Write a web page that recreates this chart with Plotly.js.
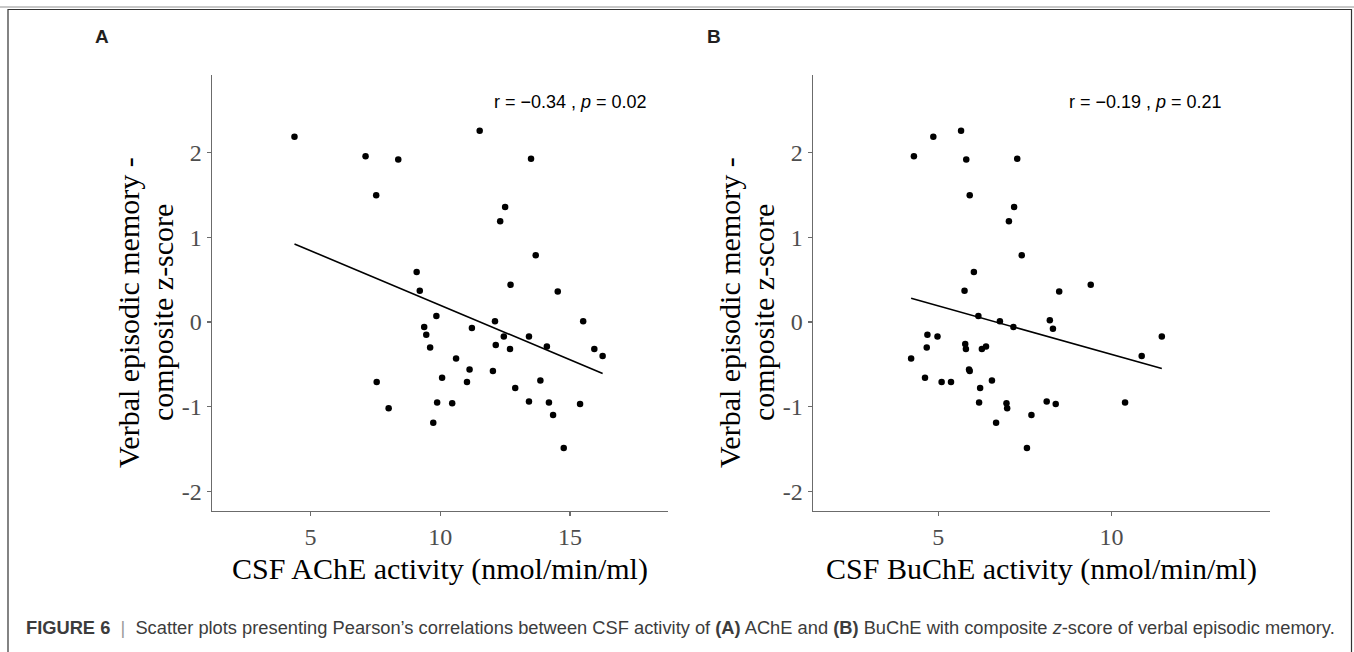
<!DOCTYPE html>
<html>
<head>
<meta charset="utf-8">
<script src="https://cdn.plot.ly/plotly-3.0.1.min.js"></script>
<style>html,body{margin:0;padding:0;background:#fff;}#chart{width:1354px;height:652px;}</style>
</head>
<body>
<div id="chart"></div>
<script>
// Panel A: CSF AChE activity vs composite z-score
const xA = [4.38, 11.52, 7.12, 8.38, 13.50, 7.53, 12.50, 12.31, 13.68, 9.09, 9.21, 12.71, 14.53, 9.85, 12.11, 15.51,
            9.38, 9.46, 9.61, 11.22, 12.45, 12.14, 12.69, 13.42, 14.11, 15.94, 16.26, 10.61, 11.13, 12.03, 10.07,
            11.03, 7.55, 12.89, 13.86, 9.88, 10.46, 13.42, 14.19, 15.39, 8.01, 14.35, 9.73, 14.76];
const yA = [2.19, 2.26, 1.96, 1.92, 1.93, 1.50, 1.36, 1.19, 0.79, 0.59, 0.37, 0.44, 0.36, 0.07, 0.01, 0.01,
            -0.06, -0.15, -0.30, -0.07, -0.17, -0.27, -0.32, -0.17, -0.29, -0.32, -0.40, -0.43, -0.56, -0.58, -0.66,
            -0.71, -0.71, -0.78, -0.69, -0.95, -0.96, -0.94, -0.95, -0.97, -1.02, -1.10, -1.19, -1.49];
// Panel B: CSF BuChE activity vs composite z-score
const xB = [4.30, 4.86, 5.66, 5.81, 7.28, 5.91, 7.19, 7.04, 7.41, 6.03, 5.76, 8.49, 9.40, 6.16, 6.78, 8.22,
            7.17, 8.31, 11.45, 4.69, 4.98, 4.67, 5.78, 5.80, 6.26, 6.38, 4.22, 10.87, 5.89, 5.91, 4.62,
            5.10, 5.37, 6.55, 6.21, 6.18, 6.97, 6.99, 8.13, 8.39, 10.39, 7.69, 6.67, 7.56];
const yB = [1.96, 2.19, 2.26, 1.92, 1.93, 1.50, 1.36, 1.19, 0.79, 0.59, 0.37, 0.36, 0.44, 0.07, 0.01, 0.02,
            -0.06, -0.08, -0.17, -0.15, -0.17, -0.30, -0.26, -0.32, -0.32, -0.29, -0.43, -0.40, -0.56, -0.58, -0.66,
            -0.71, -0.71, -0.69, -0.78, -0.95, -0.96, -1.02, -0.94, -0.97, -0.95, -1.10, -1.19, -1.49];

const yTickVals = [-2, -1, 0, 1, 2];
const yTickText = ['-2', '-1', '0', '1', '2'];
const xTickValsA = [5, 10, 15];
const xTickValsB = [5, 10];
const statA = 'r = \u22120.34 , <i>p</i> = 0.02';
const statB = 'r = \u22120.19 , <i>p</i> = 0.21';
const xTitleA = 'CSF AChE activity (nmol/min/ml)';
const xTitleB = 'CSF BuChE activity (nmol/min/ml)';
const yTitle1 = 'Verbal episodic memory -';
const yTitle2 = 'composite z-score';
const caption = '<b>FIGURE 6</b>\u00a0\u00a0<span style="color:#9a9a9a">|</span>\u00a0\u00a0Scatter plots presenting Pearson\u2019s correlations between CSF activity of <b>(A)</b> AChE and <b>(B)</b> BuChE with composite <i>z</i>-score of verbal episodic memory.';

function fit(x, y) {
  const n = x.length;
  const mx = x.reduce((a, b) => a + b, 0) / n;
  const my = y.reduce((a, b) => a + b, 0) / n;
  let sxy = 0, sxx = 0;
  for (let i = 0; i < n; i++) { sxy += (x[i] - mx) * (y[i] - my); sxx += (x[i] - mx) ** 2; }
  const b = sxy / sxx, a = my - b * mx;
  const x0 = Math.min(...x), x1 = Math.max(...x);
  return { x: [x0, x1], y: [a + b * x0, a + b * x1] };
}
const fA = fit(xA, yA), fB = fit(xB, yB);

const W = 1354, H = 652;
const px = v => v / W, py = v => (H - v) / H;

const serif = 'Liberation Serif, Times New Roman, serif';
const sans = 'Liberation Sans, Arial, sans-serif';
const axisCol = '#6b6b6b';

const traces = [
  { x: xA, y: yA, type: 'scatter', mode: 'markers', marker: { color: '#000', size: 6.5 }, xaxis: 'x', yaxis: 'y' },
  { x: fA.x, y: fA.y, type: 'scatter', mode: 'lines', line: { color: '#000', width: 1.6 }, xaxis: 'x', yaxis: 'y' },
  { x: xB, y: yB, type: 'scatter', mode: 'markers', marker: { color: '#000', size: 6.5 }, xaxis: 'x2', yaxis: 'y2' },
  { x: fB.x, y: fB.y, type: 'scatter', mode: 'lines', line: { color: '#000', width: 1.6 }, xaxis: 'x2', yaxis: 'y2' }
];

const yDom = [py(510.7), py(75)];
const commonX = {
  showline: true, linecolor: axisCol, linewidth: 1.5, ticks: 'outside', ticklen: 4, tickcolor: axisCol, tickwidth: 1.2,
  showgrid: false, zeroline: false, tickfont: { family: serif, size: 24, color: '#4d4d4d' }, tickmode: 'array'
};
const commonY = Object.assign({}, commonX, { range: [-2.23, 2.92], tickvals: yTickVals, ticktext: yTickText });

function ann(text, x, y, opts) {
  return Object.assign({ text: text, x: px(x), y: py(y), xref: 'paper', yref: 'paper', xanchor: 'center', yanchor: 'middle', showarrow: false }, opts);
}

const layout = {
  width: W, height: H, margin: { l: 0, r: 0, t: 0, b: 0 }, showlegend: false,
  paper_bgcolor: '#fff', plot_bgcolor: '#fff',
  xaxis: Object.assign({}, commonX, { domain: [px(212), px(668)], range: [1.2, 18.78], tickvals: xTickValsA, anchor: 'y',
    title: { text: xTitleA, font: { family: serif, size: 30, color: '#000' }, standoff: 9 } }),
  yaxis: Object.assign({}, commonY, { domain: yDom, anchor: 'x' }),
  xaxis2: Object.assign({}, commonX, { domain: [px(813), px(1270)], range: [1.39, 14.57], tickvals: xTickValsB, anchor: 'y2',
    title: { text: xTitleB, font: { family: serif, size: 30, color: '#000' }, standoff: 9 } }),
  yaxis2: Object.assign({}, commonY, { domain: yDom, anchor: 'x2' }),
  annotations: [
    ann('<b>A</b>', 102.5, 36, { font: { family: sans, size: 19, color: '#231f20' } }),
    ann('<b>B</b>', 714, 36, { font: { family: sans, size: 19, color: '#231f20' } }),
    ann(statA, 649, 102, { xanchor: 'right', font: { family: sans, size: 18, color: '#000' } }),
    ann(statB, 1224, 102, { xanchor: 'right', font: { family: sans, size: 18, color: '#000' } }),
    ann(yTitle1, 128, 313, { textangle: -90, font: { family: serif, size: 30, color: '#000' } }),
    ann(yTitle2, 162, 313, { textangle: -90, font: { family: serif, size: 30, color: '#000' } }),
    ann(yTitle1, 729, 313, { textangle: -90, font: { family: serif, size: 30, color: '#000' } }),
    ann(yTitle2, 763, 313, { textangle: -90, font: { family: serif, size: 30, color: '#000' } }),
    ann(caption, 24, 627, { xanchor: 'left', font: { family: sans, size: 18.3, color: '#3c3c3c' } })
  ],
  shapes: [
    { type: 'line', xref: 'paper', yref: 'paper', x0: 0, x1: 1, y0: py(7), y1: py(7), line: { color: '#c8c8c8', width: 2 } },
    { type: 'rect', xref: 'paper', yref: 'paper', x0: px(8), x1: px(1351.5), y0: -0.05, y1: py(9.5), line: { color: '#333', width: 1.2 } }
  ]
};

Plotly.newPlot('chart', traces, layout, { staticPlot: true });
</script>
</body>
</html>
